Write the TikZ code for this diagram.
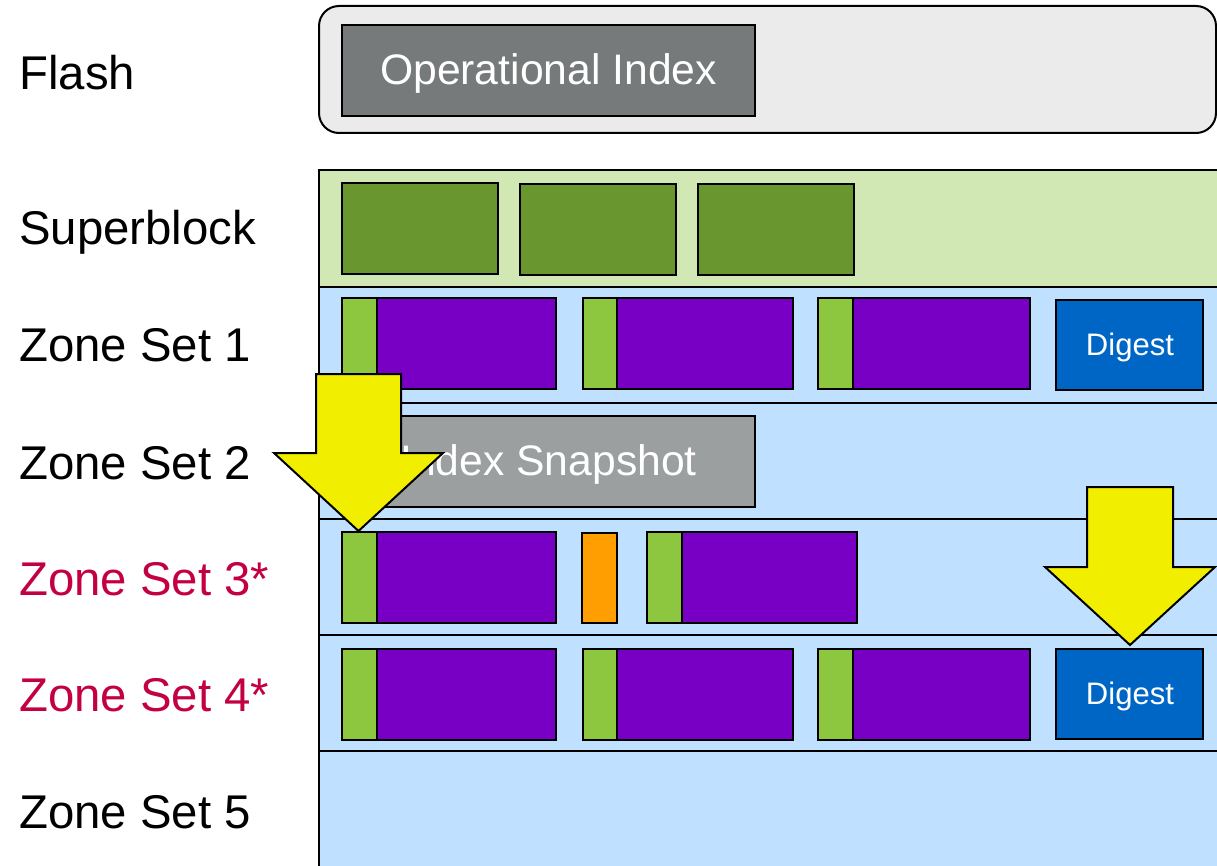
\documentclass[tikz,border=0pt]{standalone}
\usepackage{fontspec}
\setmainfont{Liberation Sans}
\usetikzlibrary{fit}

\definecolor{flashbg}{HTML}{EBEBEB}
\definecolor{opgray}{HTML}{767A7A}
\definecolor{snapgray}{HTML}{9C9FA0}
\definecolor{sbband}{HTML}{D2E8B4}
\definecolor{sbblock}{HTML}{6A962F}
\definecolor{zoneband}{HTML}{C0E0FF}
\definecolor{tag}{HTML}{8DC63F}
\definecolor{body}{HTML}{7800C4}
\definecolor{digestblue}{HTML}{0066C6}
\definecolor{pending}{HTML}{FF9E00}
\definecolor{marker}{HTML}{F2EE00}
\definecolor{hotred}{HTML}{C40044}

\tikzset{
  lbl/.style={anchor=base west, inner sep=0pt, font=\fontsize{35.5}{40}\selectfont},
  hot/.style={lbl, text=hotred},
  cell/.style={draw=black, line width=1.5pt, inner sep=0pt, rectangle},
  band/.style={draw=black, line width=1.5pt},
  boxtext/.style={anchor=base, inner sep=0pt, text=white, font=\fontsize{32}{36}\selectfont},
  smalltext/.style={anchor=base, inner sep=0pt, text=white, font=\fontsize{23.3}{26}\selectfont},
  pointer/.style={draw=black, line width=1.5pt, fill=marker, line join=miter},
}

% one record: tag strip followed by its body
\newcommand\zrecord[6]{%
  \node[cell, fill=tag, fit={(#2,#5) (#3,#6)}] (#1-tag) {};
  \node[cell, fill=body, fit={(#3,#5) (#4,#6)}] (#1-body) {};
}

\begin{document}
\begin{tikzpicture}[x=0.75pt, y=-0.75pt]
\useasboundingbox (0,0) rectangle (1217,866);

% row labels
\node[lbl] (lflash) at (19,90) {Flash};
\node[lbl] (lsb) at (19,245) {Superblock};
\node[lbl] (lz1) at (19,361) {Zone Set 1};
\node[lbl] (lz2) at (19,479) {Zone Set 2};
\node[hot] (lz3) at (19,595) {Zone Set 3*};
\node[hot] (lz4) at (19,711) {Zone Set 4*};
\node[lbl] (lz5) at (19,828) {Zone Set 5};

% flash
\node[cell, fill=flashbg, rounded corners=15pt, fit={(319,6) (1216,133)}] (flash) {};
\node[cell, fill=opgray, fit={(342,25) (755,116)}] (opidx) {};
\node[boxtext] (opidxtext) at (548.5,85) {Operational Index};

% bands
\path[band, fill=sbband] (319,170) rectangle (1240,287);
\path[band, fill=zoneband] (319,287) rectangle (1240,403);
\path[band, fill=zoneband] (319,403) rectangle (1240,519);
\path[band, fill=zoneband] (319,519) rectangle (1240,635);
\path[band, fill=zoneband] (319,635) rectangle (1240,751);
\path[band, fill=zoneband] (319,751) rectangle (1240,890);

% superblock copies
\node[cell, fill=sbblock, fit={(342,183) (498,274)}] (sb1) {};
\node[cell, fill=sbblock, fit={(520,184) (676,275)}] (sb2) {};
\node[cell, fill=sbblock, fit={(698,184) (854,275)}] (sb3) {};

% zone set 1
\zrecord{z1a}{342}{377}{556}{298}{389}
\zrecord{z1b}{583}{617}{793}{298}{389}
\zrecord{z1c}{818}{853}{1030}{298}{389}
\node[cell, fill=digestblue, fit={(1056,300) (1203,390)}] (dig1) {};
\node[smalltext] (dig1text) at (1130,355) {Digest};

% zone set 2
\node[cell, fill=snapgray, fit={(342,416) (755,507)}] (snap) {};
\node[boxtext] (snaptext) at (548.5,475) {Index Snapshot};

% zone set 3
\zrecord{z3a}{342}{377}{556}{532}{623}
\node[cell, fill=pending, fit={(582,533) (617,623)}] (z3pend) {};
\zrecord{z3b}{647}{682}{857}{532}{623}

% zone set 4
\zrecord{z4a}{342}{377}{556}{649}{740}
\zrecord{z4b}{583}{617}{793}{649}{740}
\zrecord{z4c}{818}{853}{1030}{649}{740}
\node[cell, fill=digestblue, fit={(1056,649) (1203,739)}] (dig4) {};
\node[smalltext] (dig4text) at (1130,704) {Digest};

% pointers
\draw[pointer] (316,374) -- (401,374) -- (401,453) -- (443,453) -- (358.5,531)
  -- (274,453) -- (316,453) -- cycle;
\draw[pointer] (1087,487) -- (1173,487) -- (1173,567) -- (1215,567) -- (1130,645)
  -- (1045,567) -- (1087,567) -- cycle;
\end{tikzpicture}
\end{document}
